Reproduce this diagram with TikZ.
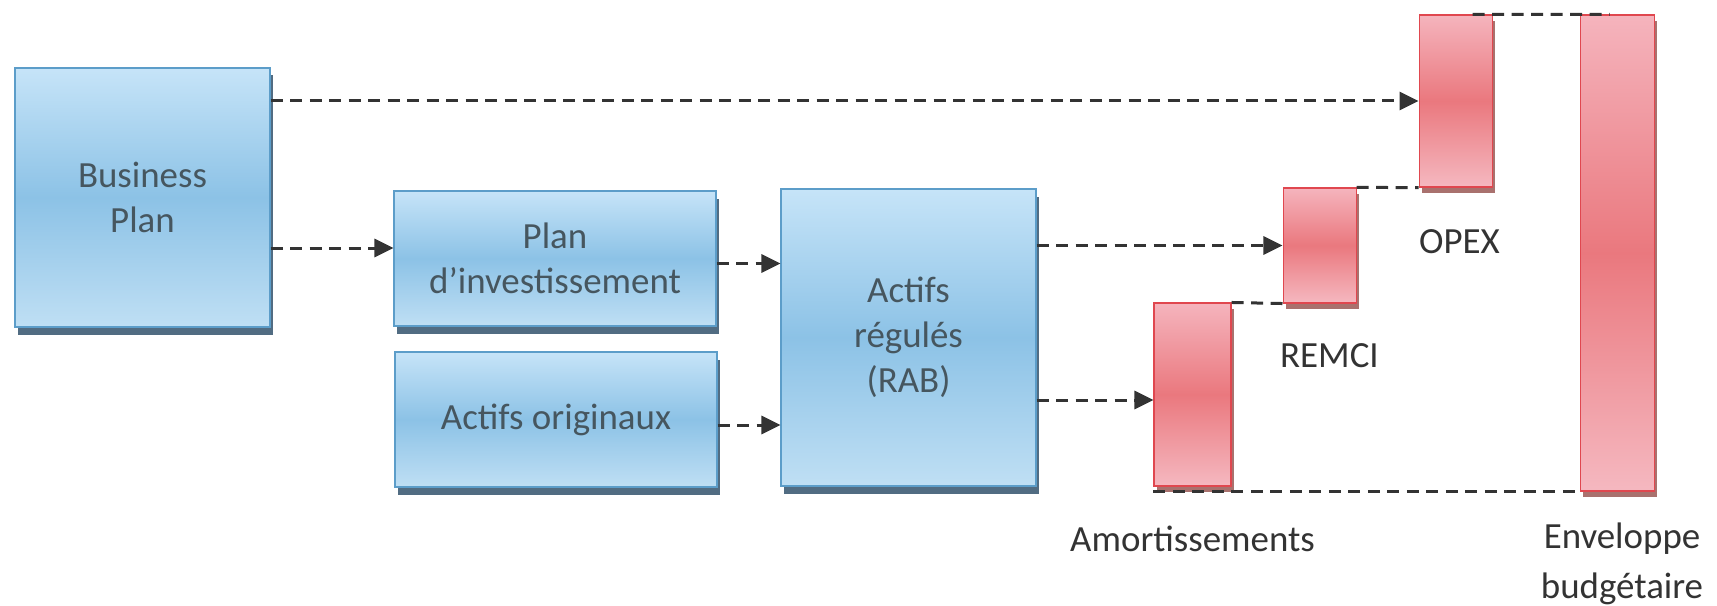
\documentclass[tikz,border=0pt]{standalone}
\usepackage{fontspec}
\setmainfont{Carlito}
\usetikzlibrary{arrows.meta}
\usetikzlibrary{shadows}
\usetikzlibrary{positioning}

\definecolor{bluetop}{HTML}{C6E4F8}
\definecolor{bluemid}{HTML}{8CC2E6}
\definecolor{bluebot}{HTML}{BFDFF4}
\definecolor{blueedge}{HTML}{5C9DC9}
\definecolor{blueshade}{HTML}{3E5C74}
\definecolor{boxtext}{HTML}{46565F}
\definecolor{redtop}{HTML}{F5B4BD}
\definecolor{redmid}{HTML}{EA787E}
\definecolor{redbot}{HTML}{F5B8C0}
\definecolor{rededge}{HTML}{E0474F}
\definecolor{redshade}{HTML}{A0625E}
\definecolor{dashgray}{HTML}{333333}

\begin{document}
\begin{tikzpicture}
	[x=0.1mm, y=-0.1mm,
	 block/.style={draw=blueedge, line width=0.3pt, top color=bluetop, bottom color=bluebot, middle color=bluemid,
	   text=boxtext, align=center, inner sep=0pt, font=\fontsize{10.5}{12.8}\selectfont,
	   drop shadow={shadow xshift=0.25mm, shadow yshift=-0.75mm, fill=blueshade, opacity=0.9}},
	 bar/.style={draw=rededge, line width=0.3pt, top color=redtop, bottom color=redbot, middle color=redmid, inner sep=0pt,
	   drop shadow={shadow xshift=0.25mm, shadow yshift=-0.6mm, fill=redshade, opacity=0.9}},
	 flow/.style={draw=dashgray, line width=0.3mm, dash pattern=on 1.2mm off 0.75mm, -{Triangle[length=1.9mm, width=1.8mm]}},
	 link/.style={draw=dashgray, line width=0.3mm, dash pattern=on 1.2mm off 0.75mm},
	 lbl/.style={text=black!80, align=center, inner sep=0pt, font=\fontsize{10.5}{14}\selectfont}]

	\useasboundingbox (0,0) rectangle (1717,606);

	%Blocks
	\node[block, minimum width=25.5mm, minimum height=25.9mm] (bp) at (142.5,197.5) {Business\\Plan};
	\node[block, minimum width=32.2mm, minimum height=13.5mm] (plan) at (555,258.5) {Plan\\d’investissement};
	\node[block, minimum width=32.2mm, minimum height=13.5mm] (orig) at (556,419.5) {Actifs originaux};
	\node[block, minimum width=25.5mm, minimum height=29.7mm] (ar) at (908.5,337.5) {Actifs\\régulés\\(RAB)};

	%Bars
	\node[bar, minimum width=7.7mm, minimum height=18.3mm] (amort) at (1192.5,394.5) {};
	\node[bar, minimum width=7.3mm, minimum height=11.5mm] (remci) at (1319.5,245.5) {};
	\node[bar, minimum width=7.3mm, minimum height=17.2mm] (opex) at (1455.5,101) {};
	\node[bar, minimum width=7.4mm, minimum height=47.6mm] (env) at (1617,253) {};

	%Labels
	\node[lbl, below=4.1mm of opex.south west, anchor=north west] (opexlbl) {OPEX};
	\node[lbl, below=3.9mm of remci.south west, anchor=north west, xshift=-0.3mm] (remcilbl) {REMCI};
	\node[lbl, below=3.9mm of amort] (amortlbl) {Amortissements};
	\node[lbl, below=3.1mm of env, xshift=0.5mm] (envlbl) {Enveloppe\\budgétaire};

	%Flows
	\coordinate (planin) at ([yshift=1.05mm]plan.west);
	\coordinate (planout) at ([yshift=-0.5mm]plan.east);
	\coordinate (origout) at ([yshift=-0.55mm]orig.east);
	\coordinate (amortin) at ([yshift=-0.55mm]amort.west);
	\draw[flow] (bp.east |- opex.west) -- (opex.west);
	\draw[flow] (bp.east |- planin) -- (planin);
	\draw[flow] (planout) -- (planout -| ar.west);
	\draw[flow] (origout) -- (origout -| ar.west);
	\draw[flow] (ar.east |- remci.west) -- (remci.west);
	\draw[flow] (ar.east |- amortin) -- (amortin);

	%Steps between bars
	\draw[link] (amort.north east) -- (remci.south west);
	\draw[link] (remci.north east) -- (opex.south west);
	\draw[link] ([xshift=-2mm]opex.north east) -- ([xshift=3mm]env.north west);
	\draw[link] (amort.south west |- env.south west) -- (env.south west);
\end{tikzpicture}
\end{document}
